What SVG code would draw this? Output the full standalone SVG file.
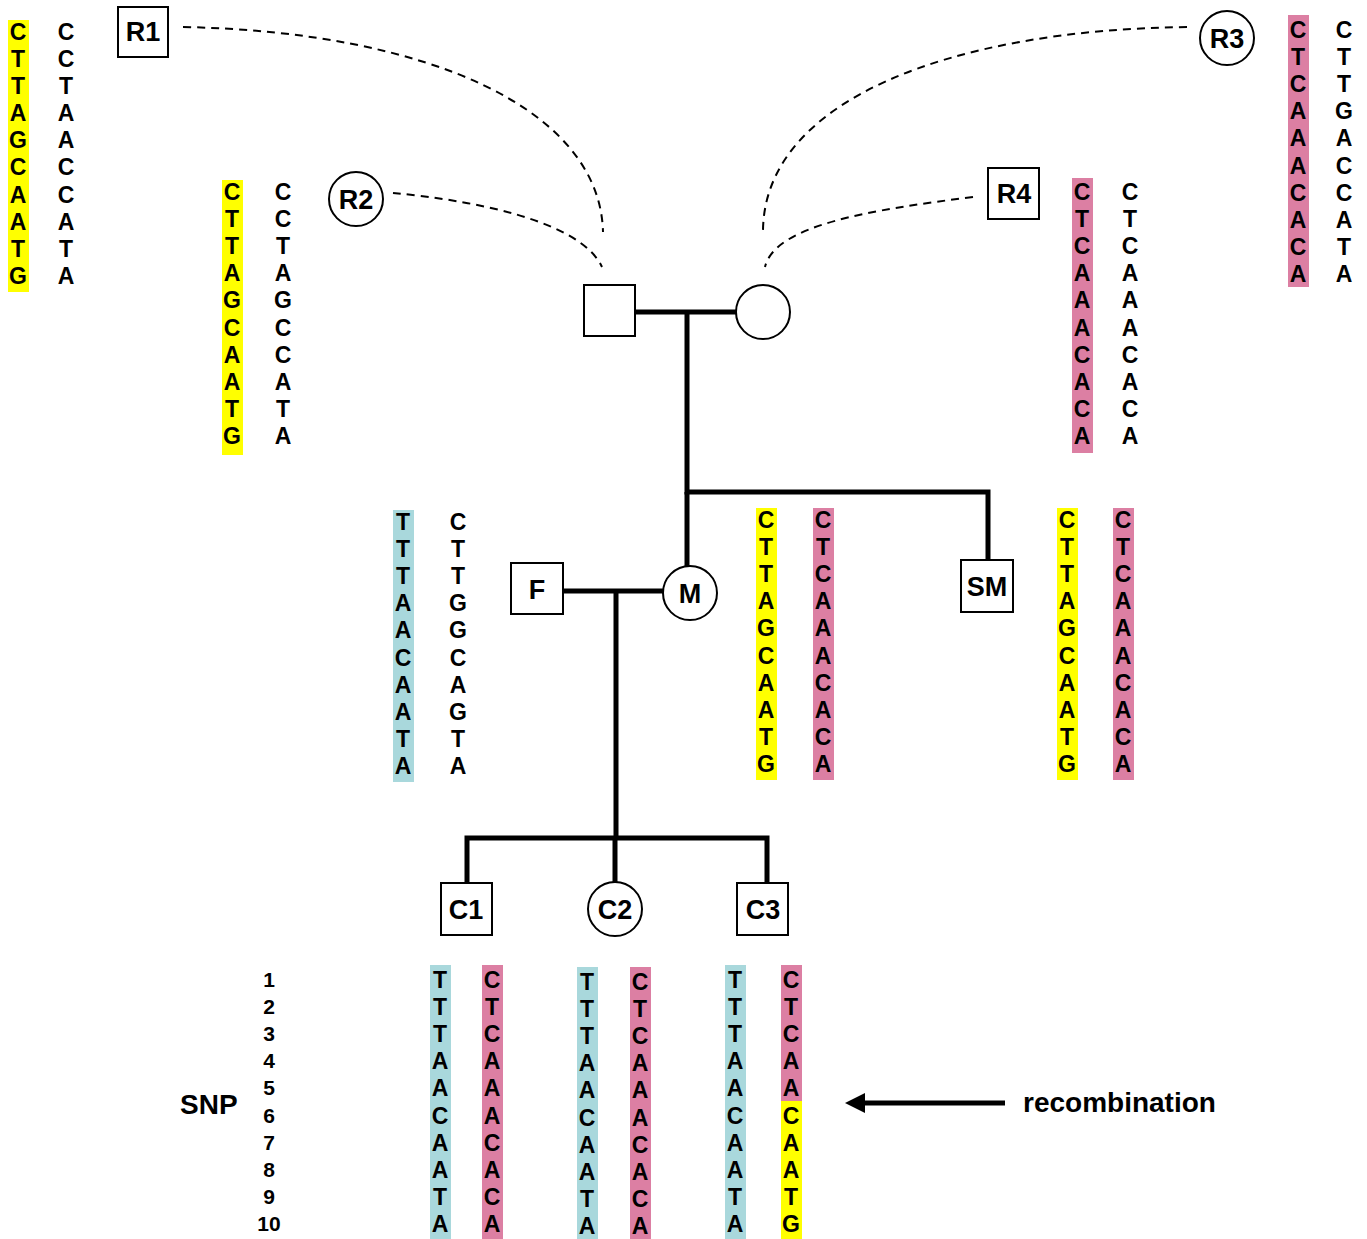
<svg xmlns="http://www.w3.org/2000/svg" width="1367" height="1239" viewBox="0 0 1367 1239">
<style>
.n{fill:#fff;stroke:#000;stroke-width:2}
.lb{font-family:"Liberation Sans",Arial,sans-serif;font-weight:bold;font-size:27px;text-anchor:middle;fill:#000}
.s{font-family:"Liberation Sans",Arial,sans-serif;font-weight:bold;font-size:23px;text-anchor:middle;fill:#000}
.num{font-family:"Liberation Sans",Arial,sans-serif;font-weight:bold;font-size:21px;text-anchor:middle;fill:#000}
.big{font-family:"Liberation Sans",Arial,sans-serif;font-weight:bold;font-size:28px;fill:#000}
.y{fill:#ffff00}.p{fill:#dc7fa3}.t{fill:#a9d8dc}
.ped{fill:none;stroke:#000;stroke-width:5;stroke-linejoin:miter}
.dash{fill:none;stroke:#000;stroke-width:2;stroke-dasharray:8 6}
</style>
<rect width="1367" height="1239" fill="#fff"/>

<g id="bars">
<rect class="y" x="8" y="20" width="21" height="272"/>
<rect class="y" x="222" y="180" width="21" height="275"/>
<rect class="p" x="1288" y="15" width="21" height="272"/>
<rect class="p" x="1072" y="178" width="21" height="275"/>
<rect class="t" x="393" y="510" width="21" height="272"/>
<rect class="y" x="756" y="508" width="21" height="272"/>
<rect class="p" x="813" y="508" width="21" height="272"/>
<rect class="y" x="1057" y="508" width="21" height="272"/>
<rect class="p" x="1113" y="508" width="21" height="272"/>
<rect class="t" x="430" y="965" width="21" height="274"/>
<rect class="p" x="482" y="965" width="21" height="274"/>
<rect class="t" x="577" y="967" width="21" height="272"/>
<rect class="p" x="630" y="967" width="21" height="272"/>
<rect class="t" x="725" y="965" width="21" height="274"/>
<rect class="p" x="781" y="965" width="21" height="136"/>
<rect class="y" x="781" y="1101" width="21" height="138"/>
</g>

<g id="sequences">
<g id="seq-r1">
<text class="s" x="18" y="40">C</text><text class="s" x="18" y="67">T</text><text class="s" x="18" y="94">T</text><text class="s" x="18" y="121">A</text><text class="s" x="18" y="148">G</text><text class="s" x="18" y="175">C</text><text class="s" x="18" y="203">A</text><text class="s" x="18" y="230">A</text><text class="s" x="18" y="257">T</text><text class="s" x="18" y="284">G</text>
<text class="s" x="66" y="40">C</text><text class="s" x="66" y="67">C</text><text class="s" x="66" y="94">T</text><text class="s" x="66" y="121">A</text><text class="s" x="66" y="148">A</text><text class="s" x="66" y="175">C</text><text class="s" x="66" y="203">C</text><text class="s" x="66" y="230">A</text><text class="s" x="66" y="257">T</text><text class="s" x="66" y="284">A</text>
</g>
<g id="seq-r2">
<text class="s" x="232" y="200">C</text><text class="s" x="232" y="227">T</text><text class="s" x="232" y="254">T</text><text class="s" x="232" y="281">A</text><text class="s" x="232" y="308">G</text><text class="s" x="232" y="336">C</text><text class="s" x="232" y="363">A</text><text class="s" x="232" y="390">A</text><text class="s" x="232" y="417">T</text><text class="s" x="232" y="444">G</text>
<text class="s" x="283" y="200">C</text><text class="s" x="283" y="227">C</text><text class="s" x="283" y="254">T</text><text class="s" x="283" y="281">A</text><text class="s" x="283" y="308">G</text><text class="s" x="283" y="336">C</text><text class="s" x="283" y="363">C</text><text class="s" x="283" y="390">A</text><text class="s" x="283" y="417">T</text><text class="s" x="283" y="444">A</text>
</g>
<g id="seq-r3">
<text class="s" x="1298" y="38">C</text><text class="s" x="1298" y="65">T</text><text class="s" x="1298" y="92">C</text><text class="s" x="1298" y="119">A</text><text class="s" x="1298" y="146">A</text><text class="s" x="1298" y="174">A</text><text class="s" x="1298" y="201">C</text><text class="s" x="1298" y="228">A</text><text class="s" x="1298" y="255">C</text><text class="s" x="1298" y="282">A</text>
<text class="s" x="1344" y="38">C</text><text class="s" x="1344" y="65">T</text><text class="s" x="1344" y="92">T</text><text class="s" x="1344" y="119">G</text><text class="s" x="1344" y="146">A</text><text class="s" x="1344" y="174">C</text><text class="s" x="1344" y="201">C</text><text class="s" x="1344" y="228">A</text><text class="s" x="1344" y="255">T</text><text class="s" x="1344" y="282">A</text>
</g>
<g id="seq-r4">
<text class="s" x="1082" y="200">C</text><text class="s" x="1082" y="227">T</text><text class="s" x="1082" y="254">C</text><text class="s" x="1082" y="281">A</text><text class="s" x="1082" y="308">A</text><text class="s" x="1082" y="336">A</text><text class="s" x="1082" y="363">C</text><text class="s" x="1082" y="390">A</text><text class="s" x="1082" y="417">C</text><text class="s" x="1082" y="444">A</text>
<text class="s" x="1130" y="200">C</text><text class="s" x="1130" y="227">T</text><text class="s" x="1130" y="254">C</text><text class="s" x="1130" y="281">A</text><text class="s" x="1130" y="308">A</text><text class="s" x="1130" y="336">A</text><text class="s" x="1130" y="363">C</text><text class="s" x="1130" y="390">A</text><text class="s" x="1130" y="417">C</text><text class="s" x="1130" y="444">A</text>
</g>
<g id="seq-f">
<text class="s" x="403" y="530">T</text><text class="s" x="403" y="557">T</text><text class="s" x="403" y="584">T</text><text class="s" x="403" y="611">A</text><text class="s" x="403" y="638">A</text><text class="s" x="403" y="666">C</text><text class="s" x="403" y="693">A</text><text class="s" x="403" y="720">A</text><text class="s" x="403" y="747">T</text><text class="s" x="403" y="774">A</text>
<text class="s" x="458" y="530">C</text><text class="s" x="458" y="557">T</text><text class="s" x="458" y="584">T</text><text class="s" x="458" y="611">G</text><text class="s" x="458" y="638">G</text><text class="s" x="458" y="666">C</text><text class="s" x="458" y="693">A</text><text class="s" x="458" y="720">G</text><text class="s" x="458" y="747">T</text><text class="s" x="458" y="774">A</text>
</g>
<g id="seq-m">
<text class="s" x="766" y="528">C</text><text class="s" x="766" y="555">T</text><text class="s" x="766" y="582">T</text><text class="s" x="766" y="609">A</text><text class="s" x="766" y="636">G</text><text class="s" x="766" y="664">C</text><text class="s" x="766" y="691">A</text><text class="s" x="766" y="718">A</text><text class="s" x="766" y="745">T</text><text class="s" x="766" y="772">G</text>
<text class="s" x="823" y="528">C</text><text class="s" x="823" y="555">T</text><text class="s" x="823" y="582">C</text><text class="s" x="823" y="609">A</text><text class="s" x="823" y="636">A</text><text class="s" x="823" y="664">A</text><text class="s" x="823" y="691">C</text><text class="s" x="823" y="718">A</text><text class="s" x="823" y="745">C</text><text class="s" x="823" y="772">A</text>
</g>
<g id="seq-sm">
<text class="s" x="1067" y="528">C</text><text class="s" x="1067" y="555">T</text><text class="s" x="1067" y="582">T</text><text class="s" x="1067" y="609">A</text><text class="s" x="1067" y="636">G</text><text class="s" x="1067" y="664">C</text><text class="s" x="1067" y="691">A</text><text class="s" x="1067" y="718">A</text><text class="s" x="1067" y="745">T</text><text class="s" x="1067" y="772">G</text>
<text class="s" x="1123" y="528">C</text><text class="s" x="1123" y="555">T</text><text class="s" x="1123" y="582">C</text><text class="s" x="1123" y="609">A</text><text class="s" x="1123" y="636">A</text><text class="s" x="1123" y="664">A</text><text class="s" x="1123" y="691">C</text><text class="s" x="1123" y="718">A</text><text class="s" x="1123" y="745">C</text><text class="s" x="1123" y="772">A</text>
</g>
<g id="seq-c1">
<text class="s" x="440" y="988">T</text><text class="s" x="440" y="1015">T</text><text class="s" x="440" y="1042">T</text><text class="s" x="440" y="1069">A</text><text class="s" x="440" y="1096">A</text><text class="s" x="440" y="1124">C</text><text class="s" x="440" y="1151">A</text><text class="s" x="440" y="1178">A</text><text class="s" x="440" y="1205">T</text><text class="s" x="440" y="1232">A</text>
<text class="s" x="492" y="988">C</text><text class="s" x="492" y="1015">T</text><text class="s" x="492" y="1042">C</text><text class="s" x="492" y="1069">A</text><text class="s" x="492" y="1096">A</text><text class="s" x="492" y="1124">A</text><text class="s" x="492" y="1151">C</text><text class="s" x="492" y="1178">A</text><text class="s" x="492" y="1205">C</text><text class="s" x="492" y="1232">A</text>
</g>
<g id="seq-c2">
<text class="s" x="587" y="990">T</text><text class="s" x="587" y="1017">T</text><text class="s" x="587" y="1044">T</text><text class="s" x="587" y="1071">A</text><text class="s" x="587" y="1098">A</text><text class="s" x="587" y="1126">C</text><text class="s" x="587" y="1153">A</text><text class="s" x="587" y="1180">A</text><text class="s" x="587" y="1207">T</text><text class="s" x="587" y="1234">A</text>
<text class="s" x="640" y="990">C</text><text class="s" x="640" y="1017">T</text><text class="s" x="640" y="1044">C</text><text class="s" x="640" y="1071">A</text><text class="s" x="640" y="1098">A</text><text class="s" x="640" y="1126">A</text><text class="s" x="640" y="1153">C</text><text class="s" x="640" y="1180">A</text><text class="s" x="640" y="1207">C</text><text class="s" x="640" y="1234">A</text>
</g>
<g id="seq-c3">
<text class="s" x="735" y="988">T</text><text class="s" x="735" y="1015">T</text><text class="s" x="735" y="1042">T</text><text class="s" x="735" y="1069">A</text><text class="s" x="735" y="1096">A</text><text class="s" x="735" y="1124">C</text><text class="s" x="735" y="1151">A</text><text class="s" x="735" y="1178">A</text><text class="s" x="735" y="1205">T</text><text class="s" x="735" y="1232">A</text>
<text class="s" x="791" y="988">C</text><text class="s" x="791" y="1015">T</text><text class="s" x="791" y="1042">C</text><text class="s" x="791" y="1069">A</text><text class="s" x="791" y="1096">A</text><text class="s" x="791" y="1124">C</text><text class="s" x="791" y="1151">A</text><text class="s" x="791" y="1178">A</text><text class="s" x="791" y="1205">T</text><text class="s" x="791" y="1232">G</text>
</g>
</g>

<g id="snp-index">
<text class="big" x="180" y="1114">SNP</text>
<text class="num" x="269" y="987">1</text><text class="num" x="269" y="1014">2</text><text class="num" x="269" y="1041">3</text><text class="num" x="269" y="1068">4</text><text class="num" x="269" y="1095">5</text><text class="num" x="269" y="1123">6</text><text class="num" x="269" y="1150">7</text><text class="num" x="269" y="1177">8</text><text class="num" x="269" y="1204">9</text><text class="num" x="269" y="1231">10</text>
</g>

<g id="connectors">
<path class="dash" d="M183,27 C430,32 600,110 603,232"/>
<path class="dash" d="M393,193 C470,200 580,220 602,267"/>
<path class="dash" d="M1187,27 C950,30 765,100 763,230"/>
<path class="dash" d="M973,197 C870,210 775,225 765,267"/>
<path class="ped" d="M635,312 H736"/>
<path class="ped" d="M687,312 V492 H988 V560"/>
<path class="ped" d="M687,492 V566"/>
<path class="ped" d="M563,591 H663"/>
<path class="ped" d="M616,591 V838"/>
<path class="ped" d="M467,883 V838 H767 V883"/>
<path class="ped" d="M615,838 V882"/>
<path d="M1005,1103 H862" stroke="#000" stroke-width="5" fill="none"/>
<path d="M845,1103 L865,1093 L865,1113 Z" fill="#000"/>
</g>

<g id="node-r1"><rect class="n" x="118" y="7" width="50" height="50"/><text class="lb" x="143" y="41">R1</text></g>
<g id="node-r2"><circle class="n" cx="356" cy="199" r="27"/><text class="lb" x="356" y="209">R2</text></g>
<g id="node-r3"><circle class="n" cx="1227" cy="38" r="27"/><text class="lb" x="1227" y="48">R3</text></g>
<g id="node-r4"><rect class="n" x="988" y="168" width="51" height="51"/><text class="lb" x="1014" y="203">R4</text></g>
<g id="node-gf"><rect class="n" x="584" y="285" width="51" height="51"/></g>
<g id="node-gm"><circle class="n" cx="763" cy="312" r="27"/></g>
<g id="node-f"><rect class="n" x="511" y="563" width="52" height="51"/><text class="lb" x="537" y="599">F</text></g>
<g id="node-m"><circle class="n" cx="690" cy="593" r="27"/><text class="lb" x="690" y="603">M</text></g>
<g id="node-sm"><rect class="n" x="961" y="560" width="52" height="52"/><text class="lb" x="987" y="596">SM</text></g>
<g id="node-c1"><rect class="n" x="441" y="883" width="51" height="52"/><text class="lb" x="466" y="919">C1</text></g>
<g id="node-c2"><circle class="n" cx="615" cy="909" r="27"/><text class="lb" x="615" y="919">C2</text></g>
<g id="node-c3"><rect class="n" x="737" y="883" width="51" height="52"/><text class="lb" x="763" y="919">C3</text></g>

<text id="label-recombination" class="big" x="1023" y="1112">recombination</text>
</svg>
